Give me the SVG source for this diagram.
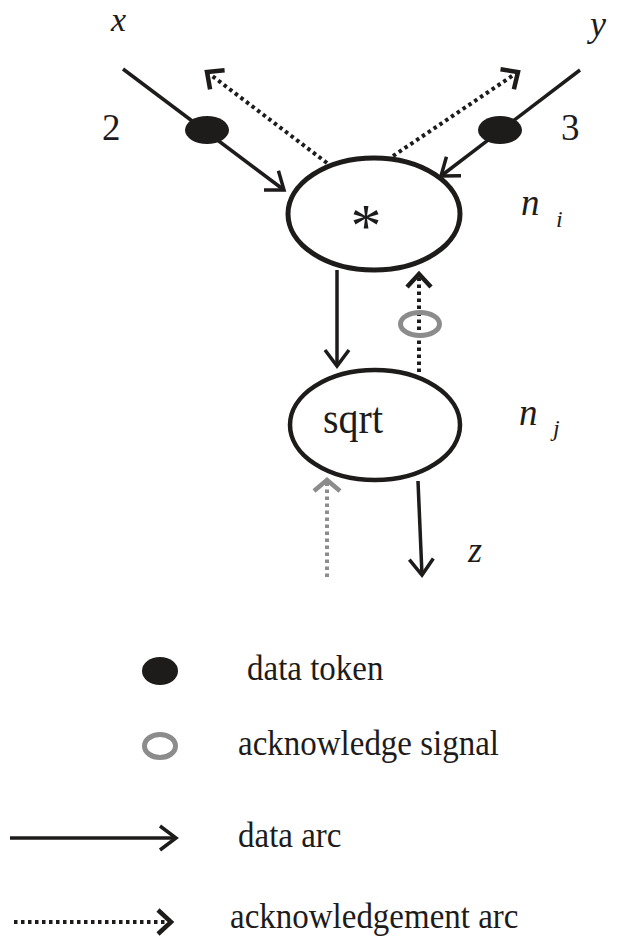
<svg xmlns="http://www.w3.org/2000/svg" width="630" height="940" viewBox="0 0 630 940">
  <defs>
    <style>
      .node { fill: #ffffff; stroke: #1e1b1b; }
      .data { fill: none; stroke: #1e1b1b; stroke-width: 3.5; marker-end: url(#dataHead); }
      .ack { fill: none; stroke: #1e1b1b; stroke-width: 4; stroke-dasharray: 3.5 3.5; marker-end: url(#ackHead); }
      .ack-grey { fill: none; stroke: #8c8c8c; stroke-width: 4; stroke-dasharray: 3.5 3.5; marker-end: url(#ackHeadGrey); }
      .token { fill: #1e1b1b; stroke: none; }
      .signal { fill: none; stroke: #8c8c8c; stroke-width: 5; }
      .label { font-family: "Liberation Serif", "Times New Roman", serif; fill: #1e1b1b; }
      .var { font-family: "Liberation Serif", "Times New Roman", serif; font-style: italic; fill: #1e1b1b; }
    </style>
    <marker id="dataHead" markerUnits="userSpaceOnUse" viewBox="-24 -24 48 48" markerWidth="48" markerHeight="48" refX="0" refY="0" orient="auto" overflow="visible">
      <path d="M-16,-12 L0,0 L-16,12" fill="none" stroke="#1e1b1b" stroke-width="3.5"/>
    </marker>
    <marker id="ackHead" markerUnits="userSpaceOnUse" viewBox="-24 -24 48 48" markerWidth="48" markerHeight="48" refX="0" refY="0" orient="auto" overflow="visible">
      <path d="M-13,-12 L0,0 L-13,12" fill="none" stroke="#1e1b1b" stroke-width="4.5"/>
    </marker>
    <marker id="ackHeadGrey" markerUnits="userSpaceOnUse" viewBox="-24 -24 48 48" markerWidth="48" markerHeight="48" refX="0" refY="0" orient="auto" overflow="visible">
      <path d="M-11,-13 L0,0 L-11,13" fill="none" stroke="#8c8c8c" stroke-width="4.5"/>
    </marker>
  </defs>

  <rect width="630" height="940" fill="#ffffff"/>

  <!-- arcs between the nodes -->
  <g id="connectors">
    <line class="data" x1="123" y1="69" x2="284" y2="190"/>
    <line class="data" x1="580" y1="70" x2="441" y2="176"/>
    <line class="data" x1="337" y1="270" x2="337" y2="366"/>
    <line class="data" x1="418" y1="481" x2="422" y2="575"/>
    <line class="ack" x1="327" y1="163" x2="207" y2="72"/>
    <line class="ack" x1="393" y1="156" x2="518" y2="72"/>
    <line class="ack" x1="419" y1="372" x2="419" y2="274"/>
    <line class="ack-grey" x1="327" y1="577" x2="327" y2="480"/>
  </g>

  <!-- tokens travelling on the arcs -->
  <g id="tokens">
    <ellipse class="token" cx="207" cy="130" rx="22" ry="14"/>
    <ellipse class="token" cx="500" cy="130" rx="22" ry="14"/>
    <ellipse class="signal" cx="420" cy="324" rx="19.5" ry="11.5"/>
  </g>

  <g id="node-ni">
    <ellipse class="node" cx="374" cy="214" rx="86" ry="56" stroke-width="5"/>
    <text class="label" x="366" y="246" font-size="62" text-anchor="middle">*</text>
    <text class="var" x="521" y="215" font-size="37">n</text>
    <text class="var" x="556" y="227" font-size="24">i</text>
  </g>

  <g id="node-nj">
    <ellipse class="node" cx="375" cy="425" rx="85" ry="55" stroke-width="4.5"/>
    <text class="label" transform="translate(353,433) scale(1,1.1)" font-size="40" text-anchor="middle">sqrt</text>
    <text class="var" x="519" y="425" font-size="37">n</text>
    <text class="var" x="553" y="436" font-size="24">j</text>
  </g>

  <!-- inputs, constants and output -->
  <g id="io-labels">
    <text class="var" x="111" y="31" font-size="34">x</text>
    <text class="var" x="590" y="36" font-size="36">y</text>
    <text class="var" x="468" y="562" font-size="36">z</text>
    <text class="label" x="102" y="140" font-size="37">2</text>
    <text class="label" x="561" y="140" font-size="37">3</text>
  </g>

  <g id="legend">
    <ellipse class="token" cx="160" cy="671" rx="18" ry="14"/>
    <text class="label" transform="translate(247,680) scale(1,1.1)" font-size="33">data token</text>
    <ellipse class="signal" cx="160" cy="746" rx="15.5" ry="11.5"/>
    <text class="label" transform="translate(238,755) scale(1,1.1)" font-size="33">acknowledge signal</text>
    <line class="data" x1="10" y1="838" x2="176" y2="838"/>
    <text class="label" transform="translate(238,847) scale(1,1.1)" font-size="33">data arc</text>
    <line class="ack" x1="14" y1="922" x2="171" y2="922"/>
    <text class="label" transform="translate(230,928) scale(1,1.1)" font-size="33">acknowledgement arc</text>
  </g>
</svg>
